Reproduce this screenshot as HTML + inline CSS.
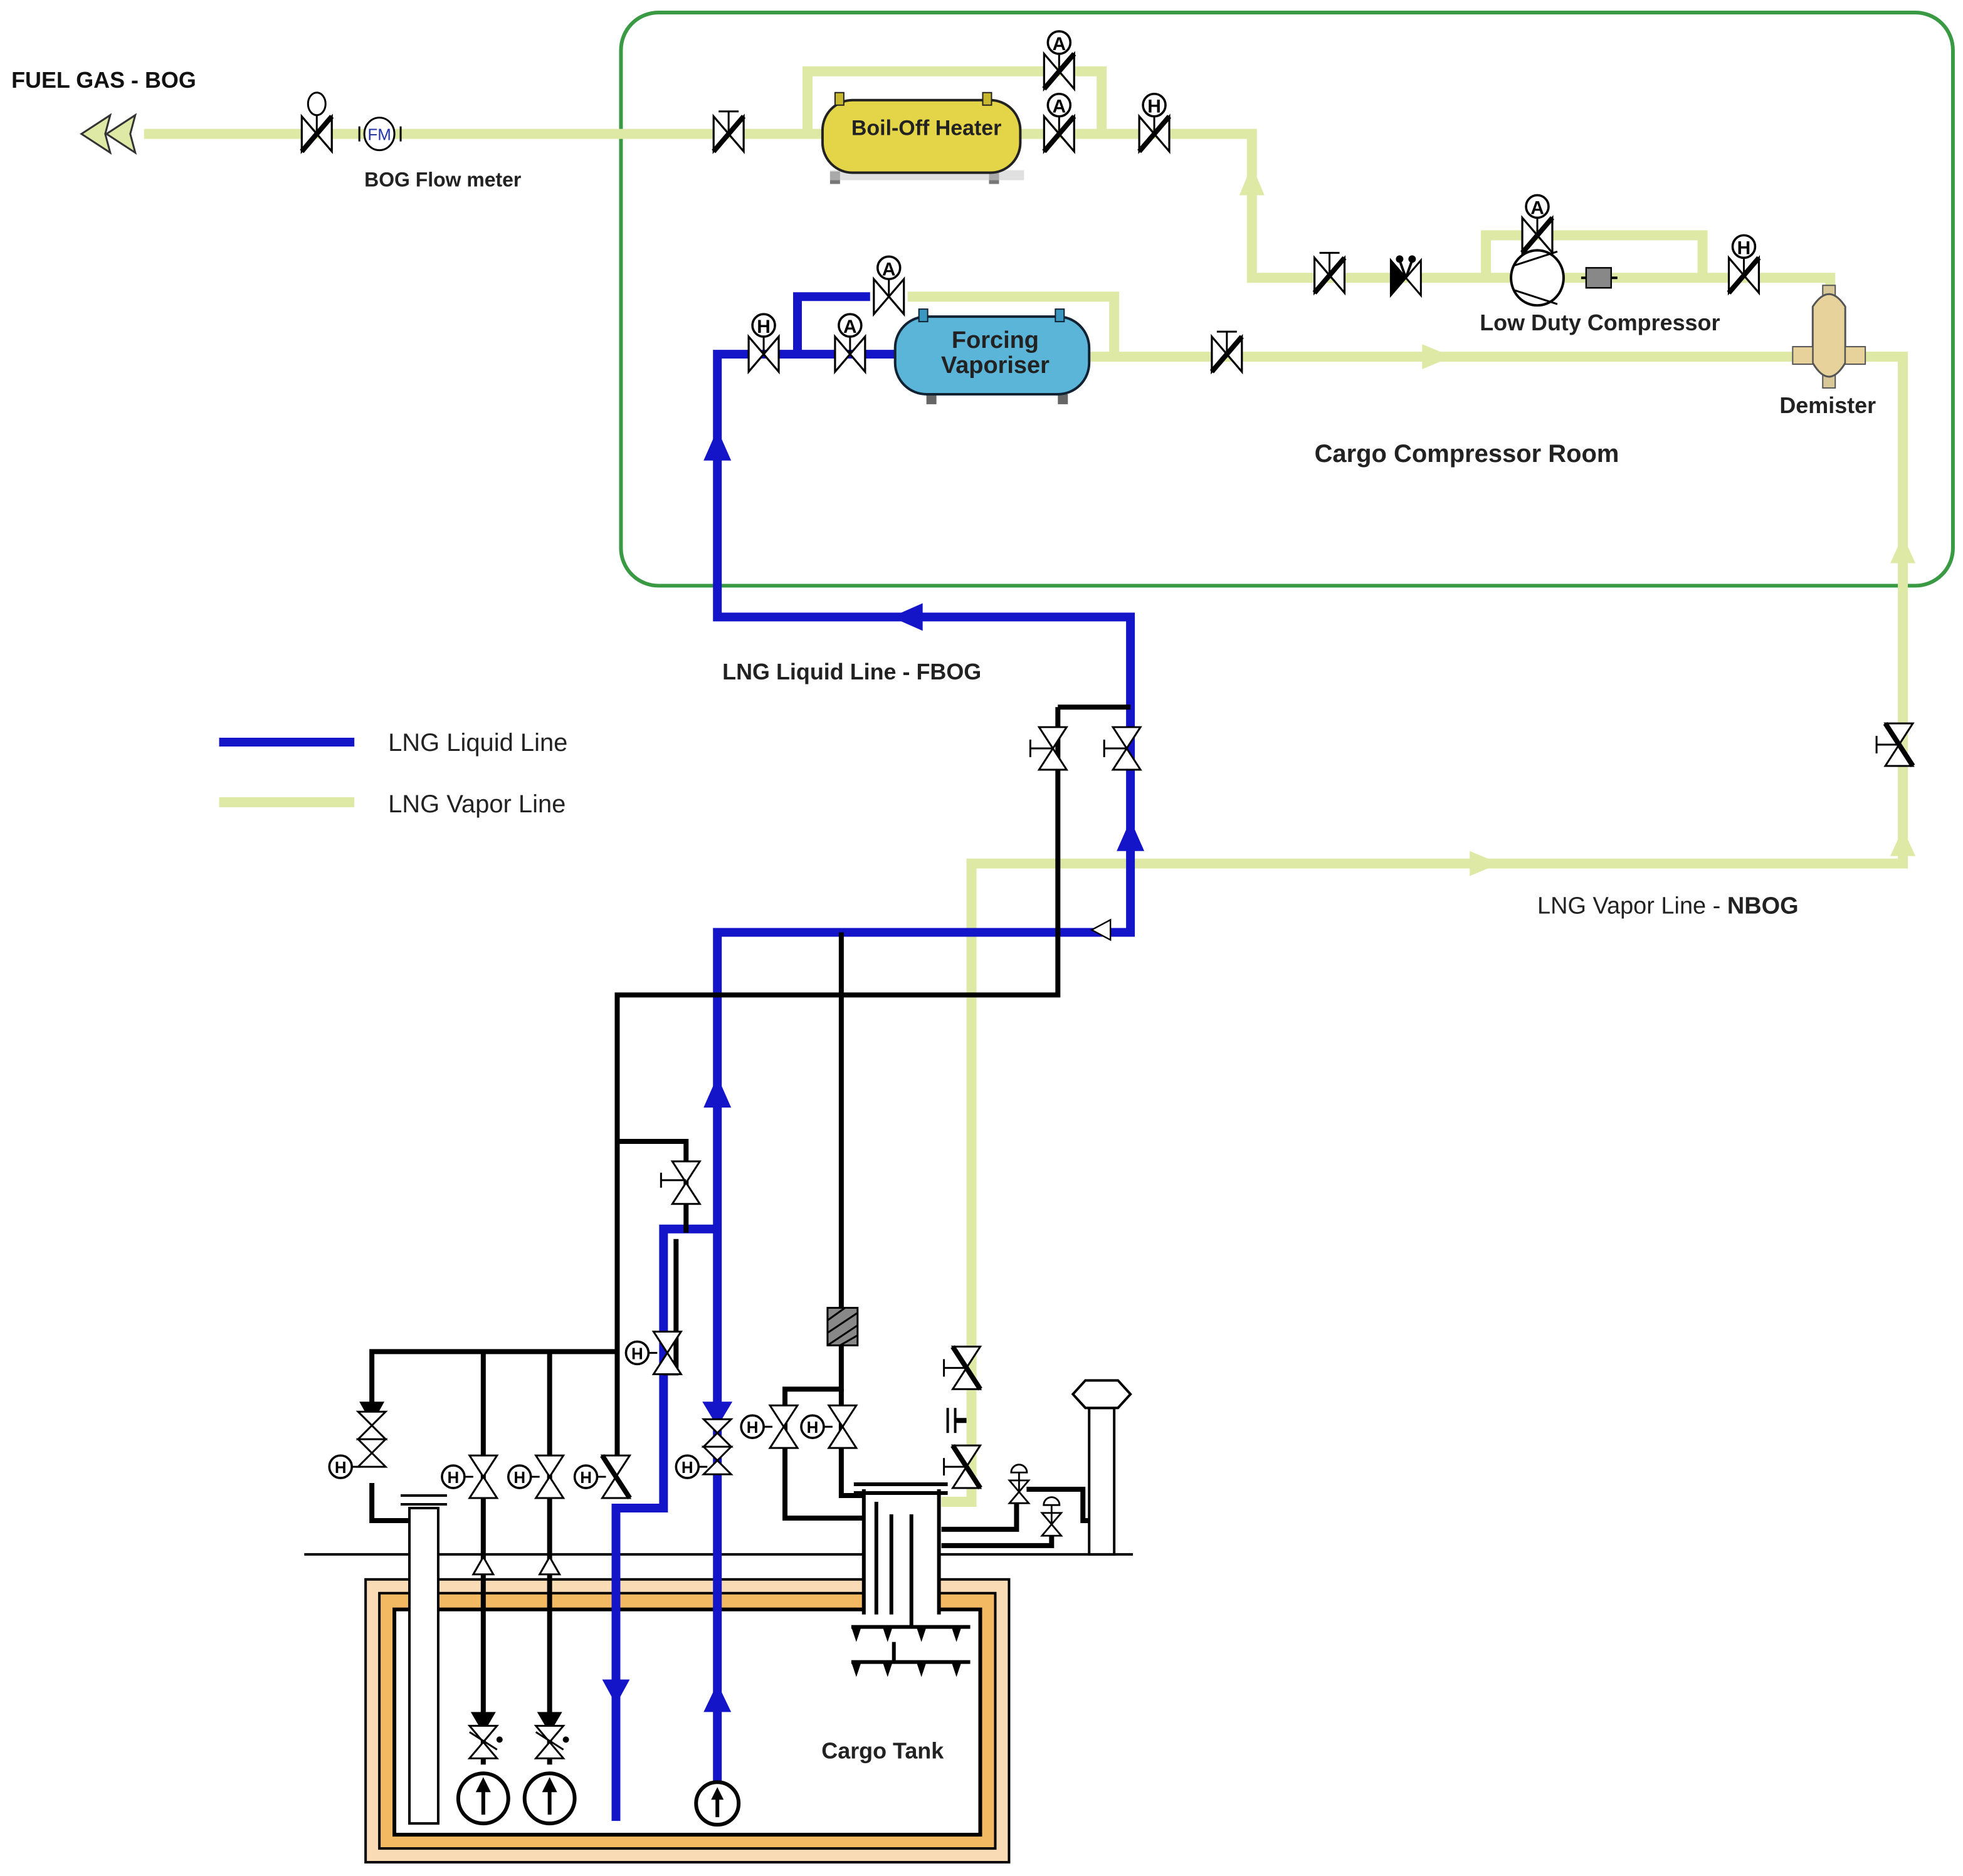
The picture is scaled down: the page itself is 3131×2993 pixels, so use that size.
<!DOCTYPE html>
<html><head><meta charset="utf-8"><style>
html,body{margin:0;padding:0;background:#fff}
svg{display:block}
text{font-family:"Liberation Sans",sans-serif}
.n{font-family:"Liberation Sans Narrow","Liberation Sans",sans-serif}
</style></head><body>
<svg width="3131" height="2993" viewBox="0 0 1568 1499" xmlns="http://www.w3.org/2000/svg">
<defs>
<g id="hv"><path d="M-12,-14 L12,14 L12,-14 L-12,14 Z" fill="#fff" stroke="#000" stroke-width="1.6"/><line x1="-12" y1="14" x2="12" y2="-14" stroke="#000" stroke-width="4"/></g>
<g id="hvo"><path d="M-12,-14 L12,14 L12,-14 L-12,14 Z" fill="#fff" stroke="#000" stroke-width="1.6"/></g>
<g id="tagA"><line x1="0" y1="0" x2="0" y2="14" stroke="#000" stroke-width="1.5"/><circle cx="0" cy="-9" r="9" fill="#fff" stroke="#000" stroke-width="1.8"/><text x="0" y="-3" font-size="15" font-weight="bold" text-anchor="middle" class="n">A</text></g>
<g id="tagH"><line x1="0" y1="0" x2="0" y2="14" stroke="#000" stroke-width="1.5"/><circle cx="0" cy="-9" r="9" fill="#fff" stroke="#000" stroke-width="1.8"/><text x="0" y="-3" font-size="15" font-weight="bold" text-anchor="middle" class="n">H</text></g>
<g id="tagHl"><line x1="0" y1="0" x2="14" y2="0" stroke="#000" stroke-width="1.5"/><circle cx="-2" cy="0" r="9" fill="#fff" stroke="#000" stroke-width="1.8"/><text x="-2" y="5" font-size="13" font-weight="bold" text-anchor="middle" class="n">H</text></g>
</defs>

<!-- green room -->
<rect x="496" y="10" width="1064" height="458" rx="30" fill="none" stroke="#3a9a44" stroke-width="3"/>

<!-- ground + tank (background) -->
<line x1="243" y1="1242" x2="905" y2="1242" stroke="#000" stroke-width="2"/>
<rect x="292" y="1262" width="514" height="226" fill="#f9dcb6" stroke="#000" stroke-width="2"/>
<rect x="303" y="1273" width="492" height="204" fill="#f2b862" stroke="#000" stroke-width="2"/>
<rect x="315" y="1286" width="468" height="180" fill="#fff" stroke="#000" stroke-width="3"/>
<rect x="690" y="1255" width="60" height="34" fill="#fff"/>

<!-- vapor lines -->
<g fill="none" stroke="#dde9a4" stroke-width="8">
<polyline points="115,107 1000,107 1000,222 1462,222 1462,232"/>
<polyline points="645,107 645,57 880,57 880,107"/>
<polyline points="1187,222 1187,188 1360,188 1360,222"/>
<polyline points="725,237 890,237 890,285"/>
<polyline points="870,285 1520,285"/>
<polyline points="1490,285 1520,285 1520,690 776,690 776,1200 752,1200"/>
<line x1="175" y1="641" x2="283" y2="641"/>
</g>
<g fill="#dde9a4">
<polygon points="1000,132 990,156 1010,156"/>
<polygon points="1160,285 1136,275 1136,295"/>
<polygon points="1520,428 1510,450 1530,450"/>
<polygon points="1520,662 1510,684 1530,684"/>
<polygon points="1198,690 1174,680 1174,700"/>
<polygon points="65,107 88,92 84,107 88,122" stroke="#333" stroke-width="1.5"/>
<polygon points="85,107 108,92 104,107 108,122" stroke="#333" stroke-width="1.5"/>
</g>

<!-- blue lines -->
<g fill="none" stroke="#1414c8" stroke-width="7">
<polyline points="715,283 573,283 573,493 903,493 903,745 573,745 573,1450"/>
<polyline points="637,283 637,237 695,237"/>
<polyline points="492,1455 492,1205 530,1205 530,982 573,982"/>
<line x1="175" y1="593" x2="283" y2="593"/>
</g>
<g fill="#1414c8">
<polygon points="573,343 562,368 584,368"/>
<polygon points="712,493 737,482 737,504"/>
<polygon points="903,655 892,680 914,680"/>
<polygon points="573,860 562,885 584,885"/>
<polygon points="573,1140 561,1120 585,1120"/>
<polygon points="492,1362 481,1342 503,1342"/>
<polygon points="573,1345 562,1368 584,1368"/>
</g>
<polygon points="872,743 887,735 887,751" fill="#fff" stroke="#000" stroke-width="1.2"/>

<!-- black lines -->
<g fill="none" stroke="#000" stroke-width="4">
<polyline points="845,565 903,565"/>
<polyline points="845,565 845,795 493,795 493,1170"/>
<polyline points="493,912 548,912 548,985"/>
<polyline points="540,990 540,1097 530,1097"/>
<line x1="672" y1="745" x2="672" y2="1045"/>
<polyline points="297,1130 297,1080 493,1080"/>
<line x1="386" y1="1080" x2="386" y2="1410"/>
<line x1="439" y1="1080" x2="439" y2="1410"/>
<polyline points="297,1185 297,1215 327,1215"/>
<polyline points="672,1075 672,1110 627,1110 627,1213 690,1213"/>
<polyline points="672,1110 672,1195 700,1195"/>
<polyline points="752,1222 812,1222 812,1200"/>
<polyline points="752,1235 840,1235 840,1222"/>
<polyline points="820,1190 865,1190 865,1215 870,1215"/>
</g>
<polygon points="297,1138 287,1120 307,1120" fill="#000"/>
<polygon points="386,1385 376,1368 396,1368" fill="#000"/>
<polygon points="439,1385 429,1368 449,1368" fill="#000"/>
<rect x="661" y="1045" width="24" height="30" fill="#888" stroke="#000" stroke-width="1.5"/>
<g stroke="#000" stroke-width="1.5"><line x1="661" y1="1055" x2="675" y2="1045"/><line x1="661" y1="1065" x2="685" y2="1049"/><line x1="661" y1="1075" x2="685" y2="1059"/><line x1="671" y1="1075" x2="685" y2="1067"/></g>

<!-- dome pipes -->
<rect x="690" y="1190" width="60" height="98" fill="#fff"/>
<g fill="none" stroke="#000" stroke-width="3">
<line x1="690" y1="1190" x2="690" y2="1290"/><line x1="750" y1="1190" x2="750" y2="1290"/>
<line x1="700" y1="1200" x2="700" y2="1290"/><line x1="712" y1="1210" x2="712" y2="1290"/><line x1="728" y1="1210" x2="728" y2="1300"/>
<line x1="682" y1="1186" x2="757" y2="1186"/><line x1="682" y1="1193" x2="757" y2="1193"/>
<line x1="680" y1="1300" x2="775" y2="1300"/><line x1="680" y1="1328" x2="775" y2="1328"/>
</g>
<g fill="#000">
<polygon points="680,1300 688,1300 684,1312"/><polygon points="705,1300 713,1300 709,1312"/><polygon points="732,1300 740,1300 736,1312"/><polygon points="760,1300 768,1300 764,1312"/>
<polygon points="680,1328 688,1328 684,1340"/><polygon points="705,1328 713,1328 709,1340"/><polygon points="732,1328 740,1328 736,1340"/><polygon points="760,1328 768,1328 764,1340"/>
</g>
<line x1="714" y1="1312" x2="714" y2="1328" stroke="#000" stroke-width="3"/>
<rect x="327" y="1205" width="23" height="252" fill="#fff" stroke="#000" stroke-width="2"/>
<line x1="320" y1="1195" x2="357" y2="1195" stroke="#000" stroke-width="2"/>
<line x1="320" y1="1202" x2="357" y2="1202" stroke="#000" stroke-width="2"/>
<!-- vent -->
<rect x="870" y="1125" width="20" height="117" fill="#fff" stroke="#000" stroke-width="2"/>
<polygon points="857,1114 867,1103 893,1103 903,1114 893,1125 867,1125" fill="#fff" stroke="#000" stroke-width="2"/>

<!-- pumps -->
<g fill="#fff" stroke="#000" stroke-width="3">
<circle cx="386" cy="1437" r="20"/><circle cx="439" cy="1437" r="20"/><circle cx="573" cy="1441" r="17"/>
</g>
<g stroke="#000" stroke-width="3"><line x1="386" y1="1450" x2="386" y2="1425"/><line x1="439" y1="1450" x2="439" y2="1425"/><line x1="573" y1="1452" x2="573" y2="1432"/></g>
<g fill="#000"><polygon points="386,1420 380,1432 392,1432"/><polygon points="439,1420 433,1432 445,1432"/><polygon points="573,1428 568,1438 578,1438"/></g>
<g fill="#fff" stroke="#000" stroke-width="1.5">
<polygon points="386,1244 378,1258 394,1258"/><polygon points="439,1244 431,1258 447,1258"/>
</g>

<!-- vertical valves lower -->
<g transform="translate(297,1150)"><path d="M-11,-22 L11,-22 L-11,0 L11,0 Z M-11,0 L11,0 L-11,22 L11,22 Z" fill="#fff" stroke="#000" stroke-width="1.5"/></g>
<use href="#tagHl" x="274" y="1172"/>
<g transform="translate(386,1180)"><path d="M-11,-17 L11,-17 L-11,17 L11,17 Z" fill="#fff" stroke="#000" stroke-width="1.5"/></g>
<use href="#tagHl" x="364" y="1180"/>
<g transform="translate(439,1180)"><path d="M-11,-17 L11,-17 L-11,17 L11,17 Z" fill="#fff" stroke="#000" stroke-width="1.5"/></g>
<use href="#tagHl" x="417" y="1180"/>
<g transform="translate(492,1180)"><path d="M-11,-17 L11,-17 L-11,17 L11,17 Z" fill="#fff" stroke="#000" stroke-width="1.5"/><line x1="-11" y1="-17" x2="11" y2="17" stroke="#000" stroke-width="4"/></g>
<use href="#tagHl" x="470" y="1180"/>
<g transform="translate(533,1081)"><path d="M-11,-17 L11,-17 L-11,17 L11,17 Z" fill="#fff" stroke="#000" stroke-width="1.5"/></g>
<use href="#tagHl" x="511" y="1081"/>
<g transform="translate(548,945)"><path d="M-11,-17 L11,-17 L-11,17 L11,17 Z" fill="#fff" stroke="#000" stroke-width="1.5"/><line x1="-20" y1="-2" x2="0" y2="-2" stroke="#000" stroke-width="1.5"/><line x1="-20" y1="-8" x2="-20" y2="4" stroke="#000" stroke-width="1.5"/></g>
<g transform="translate(573,1156)"><path d="M-11,-22 L11,-22 L-11,0 L11,0 Z M-11,0 L11,0 L-11,22 L11,22 Z" fill="#fff" stroke="#000" stroke-width="1.5"/></g>
<use href="#tagHl" x="551" y="1172"/>
<g transform="translate(626,1140)"><path d="M-11,-17 L11,-17 L-11,17 L11,17 Z" fill="#fff" stroke="#000" stroke-width="1.5"/></g>
<use href="#tagHl" x="603" y="1140"/>
<g transform="translate(673,1140)"><path d="M-11,-17 L11,-17 L-11,17 L11,17 Z" fill="#fff" stroke="#000" stroke-width="1.5"/></g>
<use href="#tagHl" x="651" y="1140"/>
<g transform="translate(386,1392)"><path d="M-11,-13 L11,-13 L-11,13 L11,13 Z" fill="#fff" stroke="#000" stroke-width="1.5"/><line x1="-11" y1="-8" x2="11" y2="6" stroke="#000" stroke-width="1.5"/><circle cx="13" cy="-2" r="2.5"/></g>
<g transform="translate(439,1392)"><path d="M-11,-13 L11,-13 L-11,13 L11,13 Z" fill="#fff" stroke="#000" stroke-width="1.5"/><line x1="-11" y1="-8" x2="11" y2="6" stroke="#000" stroke-width="1.5"/><circle cx="13" cy="-2" r="2.5"/></g>
<g transform="translate(772,1093)"><path d="M-11,-17 L11,-17 L-11,17 L11,17 Z" fill="#fff" stroke="#000" stroke-width="1.5"/><line x1="-11" y1="-17" x2="11" y2="17" stroke="#000" stroke-width="4"/><line x1="-18" y1="0" x2="0" y2="0" stroke="#000" stroke-width="1.5"/><line x1="-18" y1="-7" x2="-18" y2="7" stroke="#000" stroke-width="1.5"/></g>
<g stroke="#000" stroke-width="2"><line x1="757" y1="1125" x2="757" y2="1145"/><line x1="763" y1="1125" x2="763" y2="1145"/><line x1="763" y1="1135" x2="772" y2="1135" stroke-width="4"/></g>
<g transform="translate(772,1172)"><path d="M-11,-17 L11,-17 L-11,17 L11,17 Z" fill="#fff" stroke="#000" stroke-width="1.5"/><line x1="-11" y1="-17" x2="11" y2="17" stroke="#000" stroke-width="4"/><line x1="-18" y1="0" x2="0" y2="0" stroke="#000" stroke-width="1.5"/><line x1="-18" y1="-7" x2="-18" y2="7" stroke="#000" stroke-width="1.5"/></g>
<g transform="translate(814,1192) scale(0.7)"><path d="M-11,-13 L11,-13 L-11,13 L11,13 Z" fill="#fff" stroke="#000" stroke-width="2"/><path d="M-9,-22 A9,9 0 0 1 9,-22 Z" fill="#fff" stroke="#000" stroke-width="2"/><line x1="0" y1="-22" x2="0" y2="0" stroke="#000" stroke-width="2"/></g>
<g transform="translate(840,1218) scale(0.7)"><path d="M-11,-13 L11,-13 L-11,13 L11,13 Z" fill="#fff" stroke="#000" stroke-width="2"/><path d="M-9,-22 A9,9 0 0 1 9,-22 Z" fill="#fff" stroke="#000" stroke-width="2"/><line x1="0" y1="-22" x2="0" y2="0" stroke="#000" stroke-width="2"/></g>

<!-- FBOG / NBOG valves -->
<g transform="translate(841,598)"><path d="M-11,-17 L11,-17 L-11,17 L11,17 Z" fill="#fff" stroke="#000" stroke-width="1.5"/><line x1="-18" y1="0" x2="0" y2="0" stroke="#000" stroke-width="1.5"/><line x1="-18" y1="-7" x2="-18" y2="7" stroke="#000" stroke-width="1.5"/></g>
<g transform="translate(900,598)"><path d="M-11,-17 L11,-17 L-11,17 L11,17 Z" fill="#fff" stroke="#000" stroke-width="1.5"/><line x1="-18" y1="0" x2="0" y2="0" stroke="#000" stroke-width="1.5"/><line x1="-18" y1="-7" x2="-18" y2="7" stroke="#000" stroke-width="1.5"/></g>
<g transform="translate(1517,595)"><path d="M-11,-17 L11,-17 L-11,17 L11,17 Z" fill="#fff" stroke="#000" stroke-width="1.5"/><line x1="-11" y1="-17" x2="11" y2="17" stroke="#000" stroke-width="4"/><line x1="-18" y1="0" x2="0" y2="0" stroke="#000" stroke-width="1.5"/><line x1="-18" y1="-7" x2="-18" y2="7" stroke="#000" stroke-width="1.5"/></g>

<!-- top area equipment -->
<use href="#hv" x="253" y="107"/>
<ellipse cx="253" cy="83" rx="7" ry="9" fill="#fff" stroke="#000" stroke-width="1.5"/><line x1="253" y1="92" x2="253" y2="107" stroke="#000" stroke-width="1.5"/>
<line x1="287" y1="101" x2="287" y2="113" stroke="#000" stroke-width="1.5"/><line x1="320" y1="101" x2="320" y2="113" stroke="#000" stroke-width="1.5"/>
<ellipse cx="303" cy="107" rx="12" ry="13" fill="#fff" stroke="#000" stroke-width="1.5"/>
<text x="303" y="112" font-size="13" text-anchor="middle" fill="#2233aa" class="n">FM</text>
<use href="#hv" x="582" y="107"/><line x1="582" y1="89" x2="582" y2="107" stroke="#000" stroke-width="1.5"/><line x1="574" y1="89" x2="590" y2="89" stroke="#000" stroke-width="1.5"/>

<rect x="663" y="137" width="8" height="10" fill="#777"/><rect x="790" y="137" width="8" height="10" fill="#777"/>
<rect x="663" y="136" width="155" height="8" fill="#ccc" opacity="0.6"/>
<rect x="657" y="80" width="158" height="58" rx="24" fill="#e4d448" stroke="#222" stroke-width="2"/>
<rect x="667" y="74" width="7" height="10" fill="#c8b830" stroke="#222"/><rect x="785" y="74" width="7" height="10" fill="#c8b830" stroke="#222"/>
<text x="740" y="108" font-size="17" font-weight="bold" text-anchor="middle" class="n" fill="#222">Boil-Off Heater</text>

<use href="#hv" x="846" y="57"/><use href="#tagA" x="846" y="43"/>
<use href="#hv" x="846" y="107"/><use href="#tagA" x="846" y="93"/>
<use href="#hv" x="922" y="107"/><use href="#tagH" x="922" y="93"/>

<use href="#hv" x="1062" y="220"/><line x1="1062" y1="202" x2="1062" y2="220" stroke="#000" stroke-width="1.5"/><line x1="1054" y1="202" x2="1070" y2="202" stroke="#000" stroke-width="1.5"/>
<g transform="translate(1123,222)"><path d="M-12,-14 L12,14 L12,-14 L-12,14 Z" fill="#fff" stroke="#000" stroke-width="1.5"/><path d="M-12,-14 L0,0 L-12,14 Z" fill="#000"/><line x1="0" y1="0" x2="-5" y2="-14" stroke="#000" stroke-width="2"/><line x1="0" y1="0" x2="5" y2="-14" stroke="#000" stroke-width="2"/><circle cx="-5" cy="-15" r="3"/><circle cx="5" cy="-15" r="3"/></g>
<use href="#hv" x="1228" y="188"/><use href="#tagA" x="1228" y="174"/>
<ellipse cx="1228" cy="222" rx="21" ry="22" fill="#fff" stroke="#000" stroke-width="2"/>
<line x1="1210" y1="212" x2="1244" y2="201" stroke="#000" stroke-width="1.5"/><line x1="1210" y1="232" x2="1244" y2="243" stroke="#000" stroke-width="1.5"/>
<rect x="1267" y="214" width="20" height="16" fill="#888" stroke="#000" stroke-width="1.2"/>
<line x1="1263" y1="222" x2="1267" y2="222" stroke="#000" stroke-width="2"/><line x1="1287" y1="222" x2="1292" y2="222" stroke="#000" stroke-width="2"/>
<use href="#hv" x="1393" y="220"/><use href="#tagH" x="1393" y="206"/>
<text x="1278" y="264" font-size="18" font-weight="bold" text-anchor="middle" fill="#222">Low Duty Compressor</text>

<!-- demister -->
<rect x="1456" y="228" width="10" height="10" fill="#d8c898" stroke="#555"/>
<rect x="1456" y="300" width="10" height="10" fill="#d8c898" stroke="#555"/>
<path d="M1448,245 Q1461,225 1474,245 L1474,290 Q1461,312 1448,290 Z" fill="#e6d29a" stroke="#555" stroke-width="1.5"/>
<rect x="1432" y="277" width="16" height="14" fill="#e6d29a" stroke="#555"/><rect x="1474" y="277" width="16" height="14" fill="#e6d29a" stroke="#555"/>
<text x="1460" y="330" font-size="18" font-weight="bold" text-anchor="middle" fill="#222">Demister</text>

<!-- forcing vaporiser -->
<rect x="740" y="315" width="8" height="8" fill="#666"/><rect x="845" y="315" width="8" height="8" fill="#666"/>
<rect x="715" y="253" width="155" height="62" rx="25" fill="#5bb5d9" stroke="#123" stroke-width="2"/>
<rect x="734" y="247" width="7" height="10" fill="#3a98c0" stroke="#123"/><rect x="843" y="247" width="7" height="10" fill="#3a98c0" stroke="#123"/>
<text x="795" y="278" font-size="19" font-weight="bold" text-anchor="middle" class="n" fill="#222">Forcing</text>
<text x="795" y="298" font-size="19" font-weight="bold" text-anchor="middle" class="n" fill="#222">Vaporiser</text>
<use href="#hvo" x="710" y="237"/><use href="#tagA" x="710" y="223"/>
<use href="#hvo" x="679" y="283"/><use href="#tagA" x="679" y="269"/>
<use href="#hvo" x="610" y="283"/><use href="#tagH" x="610" y="269"/>
<use href="#hv" x="980" y="283"/><line x1="980" y1="265" x2="980" y2="283" stroke="#000" stroke-width="1.5"/><line x1="972" y1="265" x2="988" y2="265" stroke="#000" stroke-width="1.5"/>

<!-- texts -->
<text x="9" y="70" font-size="18" font-weight="bold" fill="#111">FUEL GAS - BOG</text>
<text x="291" y="149" font-size="16" font-weight="bold" fill="#222">BOG Flow meter</text>
<text x="1050" y="369" font-size="20" font-weight="bold" fill="#222">Cargo Compressor Room</text>
<text x="577" y="543" font-size="18" font-weight="bold" fill="#222">LNG Liquid Line - FBOG</text>
<text x="310" y="600" font-size="20" fill="#222">LNG Liquid Line</text>
<text x="310" y="649" font-size="20" fill="#222">LNG Vapor Line</text>
<text x="1228" y="730" font-size="19" fill="#222">LNG Vapor Line - <tspan font-weight="bold">NBOG</tspan></text>
<text x="705" y="1405" font-size="18" font-weight="bold" text-anchor="middle" fill="#222">Cargo Tank</text>
</svg>
</body></html>
